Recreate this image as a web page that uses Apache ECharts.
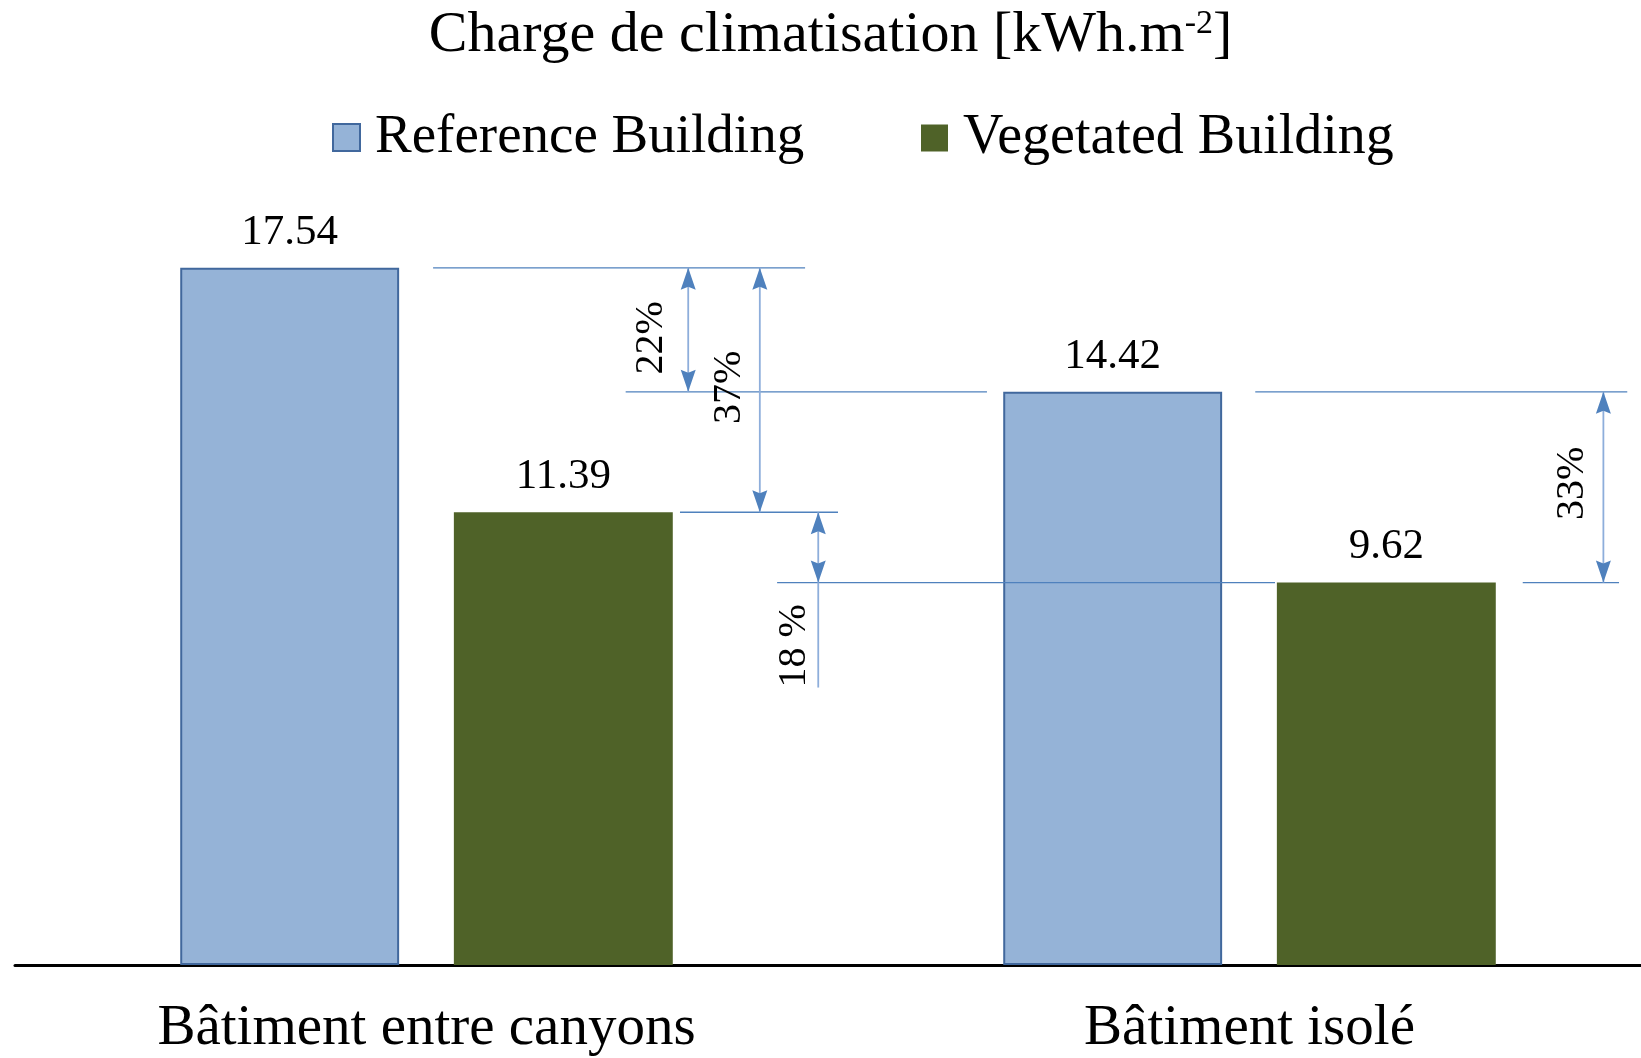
<!DOCTYPE html>
<html>
<head>
<meta charset="utf-8">
<script src="https://cdn.jsdelivr.net/npm/echarts@6/dist/echarts.min.js"></script>
<style>
html,body{margin:0;padding:0;background:#fff;overflow:hidden;}
#chart{width:1641px;height:1058px;overflow:hidden;}
</style>
</head>
<body>
<div id="chart"></div>
<script>
const categories = ['Bâtiment entre canyons', 'Bâtiment isolé'];
const seriesNames = ['Reference Building', 'Vegetated Building'];
const referenceValues = [17.54, 14.42];
const vegetatedValues = [11.39, 9.62];
const reductionLabels = ['22%', '37%', '18 %', '33%'];

const FONT = '"Liberation Serif", "DejaVu Serif", serif';
const BLUE = '#4F81BD';

// Guide lines (position on a hidden 0..2 category-aligned axis, level from the data)
const guideLines = [
  [0.508, 0.960, referenceValues[0]],
  [0.742, 1.181, referenceValues[1]],
  [0.808, 1.000, vegetatedValues[0]],
  [0.926, 1.531, vegetatedValues[1]],
  [1.507, 1.959, referenceValues[1]],
  [1.832, 1.949, vegetatedValues[1]]
];
// Arrows: x, top level, bottom level, arrow at top, arrow at bottom
const arrows = [
  [0.818, referenceValues[0], referenceValues[1], 1, 1],
  [0.905, referenceValues[0], vegetatedValues[0], 1, 1],
  [0.976, vegetatedValues[0], vegetatedValues[1], 1, 1],
  [0.976, vegetatedValues[1], 6.98, 0, 0],
  [1.930, referenceValues[1], vegetatedValues[1], 1, 1]
];
const labelSpots = [
  [0.773, 15.78, reductionLabels[0]],
  [0.868, 14.53, reductionLabels[1]],
  [0.947, 8.03, reductionLabels[2]],
  [1.893, 12.12, reductionLabels[3]]
];

const chart = echarts.init(document.getElementById('chart'), null, {renderer: 'canvas', width: 1661, height: 1058});

const valueLabel = {
  show: true, position: 'top', distance: 14,
  fontFamily: FONT, fontSize: 43, color: '#000',
  formatter: p => p.value.toFixed(2)
};

const option = {
  backgroundColor: '#fff',
  animation: false,
  title: {
    text: 'Charge de climatisation [kWh.m{sup|-2}]',
    left: 'center', top: 7, padding: 0,
    textStyle: {
      fontFamily: FONT, fontSize: 58, fontWeight: 'normal', color: '#000',
      rich: { sup: { fontFamily: FONT, fontSize: 34, verticalAlign: 'top', padding: [0, 0, 22, 0], color: '#000' } }
    }
  },
  legend: [
    { data: [seriesNames[0]], left: 332, top: 110, padding: 0, itemWidth: 27, itemHeight: 27, icon: 'rect',
      textStyle: { fontFamily: FONT, fontSize: 55, color: '#000', padding: [0, 0, 0, 10] } },
    { data: [seriesNames[1]], left: 921, top: 110, padding: 0, itemWidth: 27, itemHeight: 27, icon: 'rect',
      textStyle: { fontFamily: FONT, fontSize: 56, color: '#000', padding: [0, 0, 0, 10] } }
  ],
  grid: { left: 15, right: 0, top: 170, bottom: 90, containLabel: false },
  xAxis: [
    {
      type: 'category', data: categories,
      axisLine: { show: true, lineStyle: { color: '#000', width: 3 } },
      axisTick: { show: false },
      axisLabel: { fontFamily: FONT, fontSize: 57, color: '#000', margin: 36 }
    },
    { type: 'value', min: 0, max: 2, show: false }
  ],
  yAxis: { type: 'value', min: 0, max: 20, show: false, splitLine: { show: false } },
  series: [
    {
      name: seriesNames[0], type: 'bar', data: referenceValues,
      barWidth: '26.6%', barGap: '25%',
      itemStyle: { color: '#95B3D7', borderColor: '#41689D', borderWidth: 2 },
      label: valueLabel
    },
    {
      name: seriesNames[1], type: 'bar', data: vegetatedValues,
      barWidth: '26.6%', barGap: '25%',
      itemStyle: { color: '#4F6228' },
      label: valueLabel
    },
    {
      type: 'custom', xAxisIndex: 1, yAxisIndex: 0, silent: true, z: 5, clip: false,
      data: guideLines,
      renderItem: (params, api) => {
        const a = api.coord([api.value(0), api.value(2)]);
        const b = api.coord([api.value(1), api.value(2)]);
        return { type: 'line', shape: { x1: a[0], y1: a[1], x2: b[0], y2: b[1] },
          style: { stroke: BLUE, lineWidth: 1.3 } };
      }
    },
    {
      type: 'custom', xAxisIndex: 1, yAxisIndex: 0, silent: true, z: 6, clip: false,
      data: arrows,
      renderItem: (params, api) => {
        const t = api.coord([api.value(0), api.value(1)]);
        const b = api.coord([api.value(0), api.value(2)]);
        const x = t[0];
        const hw = 7.5, hh = 22;
        const children = [{ type: 'line', shape: { x1: x, y1: t[1], x2: x, y2: b[1] },
          style: { stroke: '#8EAEDB', lineWidth: 1.8 } }];
        if (api.value(3)) children.push({ type: 'polygon',
          shape: { points: [[x, t[1]], [x - hw, t[1] + hh], [x, t[1] + hh - 3], [x + hw, t[1] + hh]] },
          style: { fill: BLUE } });
        if (api.value(4)) children.push({ type: 'polygon',
          shape: { points: [[x, b[1]], [x - hw, b[1] - hh], [x, b[1] - hh + 3], [x + hw, b[1] - hh]] },
          style: { fill: BLUE } });
        return { type: 'group', children };
      }
    },
    {
      type: 'custom', xAxisIndex: 1, yAxisIndex: 0, silent: true, z: 7, clip: false,
      data: labelSpots,
      renderItem: (params, api) => {
        const p = api.coord([api.value(0), api.value(1)]);
        return { type: 'text', x: p[0], y: p[1], rotation: Math.PI / 2,
          style: { text: labelSpots[params.dataIndex][2], fontFamily: FONT, fontSize: 40,
            fill: '#000', align: 'center', verticalAlign: 'middle' } };
      }
    }
  ]
};
chart.setOption(option);
</script>
</body>
</html>
